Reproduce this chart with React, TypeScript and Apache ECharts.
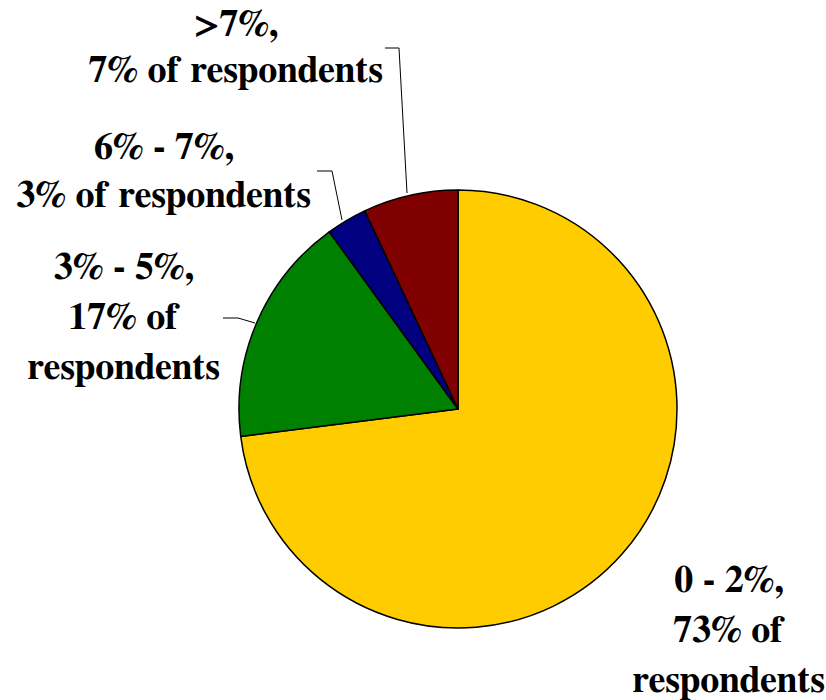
import React, { useEffect, useRef } from "react";
import * as echarts from "echarts";

const categories = ["0 - 2%", "3% - 5%", "6% - 7%", ">7%"];
const shares = [73, 17, 3, 7];
const labelTexts = [
  "0 - 2%,\n73% of\nrespondents",
  "3% - 5%,\n17% of\nrespondents",
  "6% - 7%,\n3% of respondents",
  ">7%,\n7% of respondents",
];
const colors = ["#FFCC00", "#008000", "#000080", "#800000"];

// label placement (styles/positions)
const labelCenters: [number, number][] = [
  [729, 631],
  [124, 318],
  [164, 172],
  [236, 48],
];
const lineHeights = [50, 50, 48, 46];
const leaderPoints: ([number, number][] | null)[] = [
  null,
  [[255, 323], [238, 318], [223, 318]],
  [[342, 220], [332, 171], [317, 171]],
  [[407, 193], [399, 48], [385, 48]],
];

const FONT = "FreeSerif, 'Liberation Serif', 'Times New Roman', serif";

export default function App() {
  const ref = useRef<HTMLDivElement>(null);
  useEffect(() => {
    document.body.style.margin = "0";
    if (!ref.current) return;
    const chart = echarts.init(ref.current, undefined, { renderer: "svg" });
    const data = categories.map((c, i) => ({
      name: c,
      value: shares[i],
      itemStyle: { color: colors[i] },
      label: {
        formatter: labelTexts[i],
        lineHeight: lineHeights[i],
        fontFamily: FONT,
        fontWeight: "bold",
        fontSize: 38,
        color: "#000",
      },
      labelLine: { show: leaderPoints[i] !== null },
    }));
    chart.setOption({
      animation: false,
      backgroundColor: "#ffffff",
      series: [
        {
          type: "pie",
          center: [458, 409],
          radius: 219,
          startAngle: 90,
          clockwise: true,
          avoidLabelOverlap: false,
          itemStyle: { borderColor: "#000", borderWidth: 1.5 },
          label: { show: true, position: "outside", align: "center" },
          labelLine: {
            show: true,
            length: 10,
            length2: 10,
            lineStyle: { color: "#000", width: 1 },
          },
          emphasis: { disabled: true },
          labelLayout: (params: any) => {
            const i = params.dataIndex;
            const res: any = {
              x: labelCenters[i][0],
              y: labelCenters[i][1],
              align: "center",
              verticalAlign: "middle",
            };
            if (leaderPoints[i]) res.labelLinePoints = leaderPoints[i];
            return res;
          },
          data,
        },
      ],
    });
    return () => chart.dispose();
  }, []);
  return <div ref={ref} style={{ width: 826, height: 700 }} />;
}
